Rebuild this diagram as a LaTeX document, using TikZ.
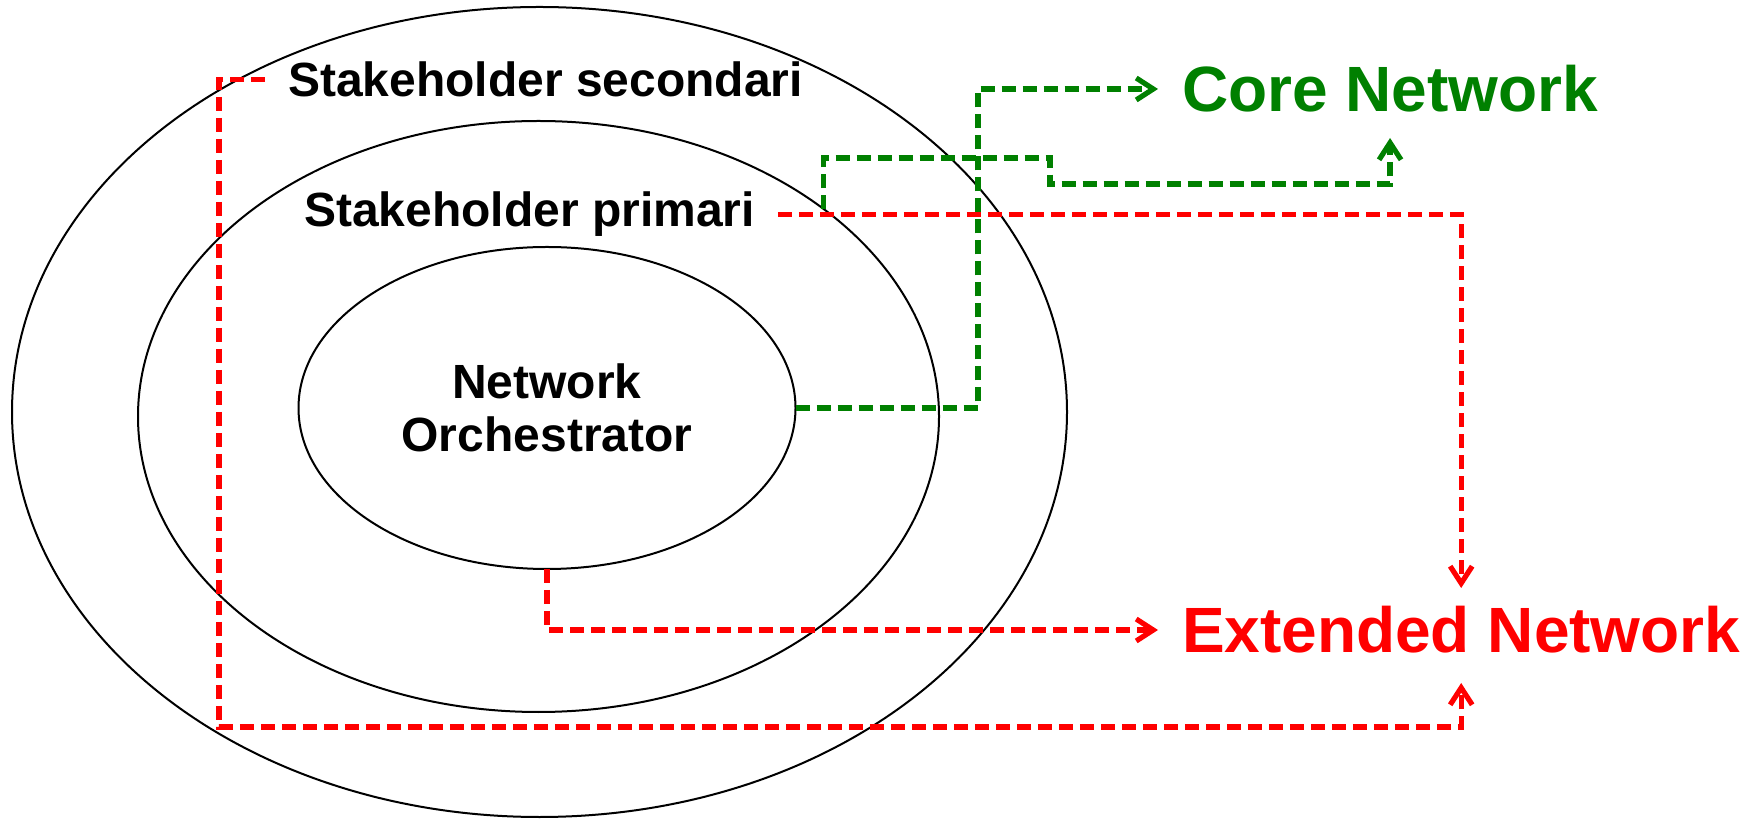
\documentclass[tikz,border=0pt]{standalone}
\usepackage{fontspec}
\setmainfont{Liberation Sans}
\usetikzlibrary{shapes.geometric,arrows.meta}
\definecolor{coregreen}{RGB}{0,128,0}
\definecolor{extred}{RGB}{255,0,0}

\begin{document}
\begin{tikzpicture}[x=0.5pt,y=-0.5pt,
  ring/.style={ellipse, draw=black, line width=1pt, inner sep=0pt, outer sep=0pt},
  ringtext/.style={font=\bfseries\fontsize{24}{26.5}\selectfont, inner ysep=0pt, outer sep=0pt},
  nettext/.style={font=\bfseries\fontsize{32}{36}\selectfont, outer sep=0pt,
    text height=23pt, text depth=0pt, inner xsep=12pt},
  link/.style={line width=2.6pt, dash pattern=on 7pt off 3.5pt,
    -{Straight Barb[length=8.5pt,width=11pt]}},
  greenlink/.style={link, draw=coregreen},
  redlink/.style={link, draw=extred}]

\useasboundingbox (0,0) rectangle (1755,822);

% the three nested circles of actors
\node[ring, minimum width=527.5pt, minimum height=405pt] (sec) at (539.5,412) {};
\node[ring, minimum width=400.5pt, minimum height=295.5pt] (prim) at (538.5,416.5) {};
\node[ring, minimum width=248.5pt, minimum height=161pt,
      font=\bfseries\fontsize{24}{26.5}\selectfont, align=center] (orch) at (547,408)
      {Network\\Orchestrator};

% ring labels
\node[ringtext, anchor=base west, inner xsep=11.5pt] (tsec) at (265,97) {Stakeholder secondari};
\node[ringtext, anchor=base west, inner xsep=11.5pt] (tprim) at (281,227) {Stakeholder primari};

% network targets
\node[nettext, text=coregreen, anchor=base west, inner ysep=13pt] (core) at (1158,112) {Core Network};
\node[nettext, text=extred, anchor=base west, inner ysep=9.5pt] (ext) at (1158,653) {Extended Network};

% bend points of the routed connectors
\coordinate (g1) at (978,250);
\coordinate (g2a) at (1050,158);
\coordinate (g2b) at (1050,184);
\coordinate (r5) at (219,727);

% links to the core network
\draw[greenlink] (orch.east) -| (g1) |- (core.west);
\draw[greenlink] (prim.36.3) |- (g2a) -- (g2b) -| (core.south);

% links to the extended network
\draw[redlink] (tprim.east) -| (ext.north);
\draw[redlink] (orch.south) |- (ext.west);
\draw[redlink, shorten >=5.5pt] (tsec.west) -| (r5) -| (ext.south);

\end{tikzpicture}
\end{document}
